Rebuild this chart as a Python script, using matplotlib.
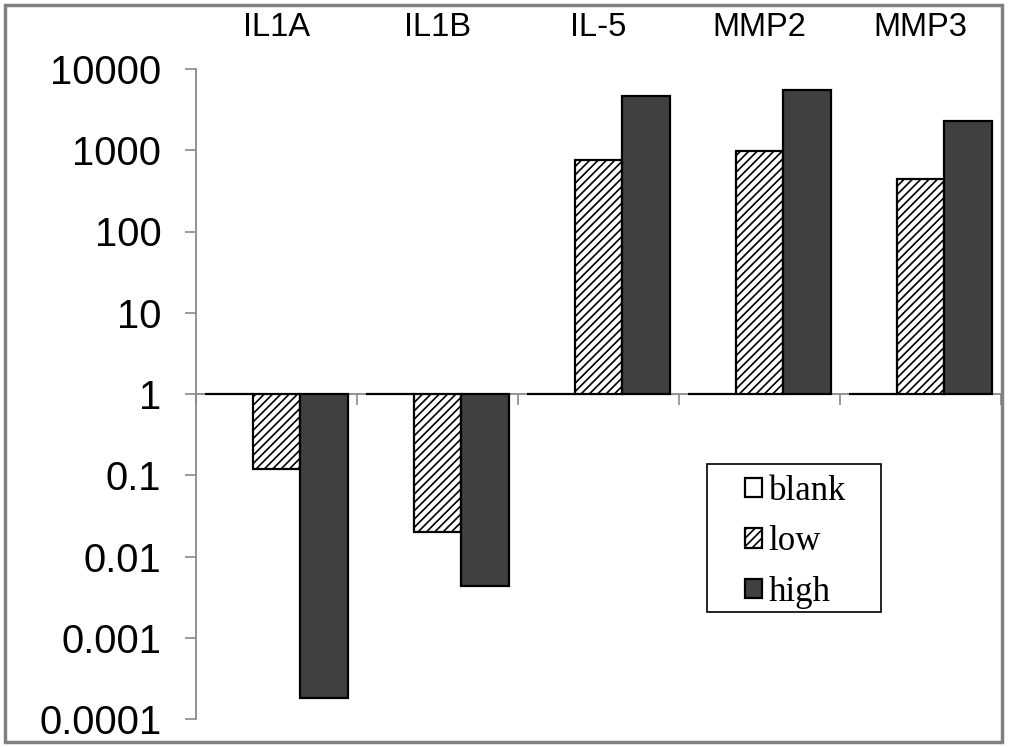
import numpy as np
import matplotlib
matplotlib.use("Agg")
import matplotlib.pyplot as plt
from matplotlib.patches import Rectangle

categories = ["IL1A", "IL1B", "IL-5", "MMP2", "MMP3"]
series_names = ["blank", "low", "high"]
blank = [1, 1, 1, 1, 1]
low = [0.12, 0.02, 760, 980, 445]
high = [0.00018, 0.0043, 4600, 5500, 2300]
ytick_values = [0.0001, 0.001, 0.01, 0.1, 1, 10, 100, 1000, 10000]
ytick_labels = ["0.0001", "0.001", "0.01", "0.1", "1", "10", "100", "1000", "10000"]

plt.rcParams['hatch.linewidth'] = 1.2
fig = plt.figure(figsize=(10.09, 7.47), dpi=100)
ax = fig.add_axes([196/1009, 1-719/747, (1001-196)/1009, (719-69)/747])

x = np.arange(len(categories))
w = 0.298
styles = [
    dict(facecolor="white", edgecolor="black", hatch=None),
    dict(facecolor="white", edgecolor="black", hatch="////"),
    dict(facecolor="#404040", edgecolor="black", hatch=None),
]
for i, (name, vals) in enumerate(zip(series_names, [blank, low, high])):
    vals = np.array(vals, dtype=float)
    ax.bar(x + (i-1)*w, vals - 1, bottom=1, width=w, linewidth=1.6,
           label=name, **styles[i])

ax.set_yscale("log")
ax.set_ylim(0.0001, 10000)
ax.set_xlim(-0.5, len(categories)-0.5)
ax.set_yticks(ytick_values)
ax.set_yticklabels(ytick_labels)
ax.yaxis.set_minor_locator(matplotlib.ticker.NullLocator())
ax.tick_params(axis='y', which='major', direction='out', length=8, width=1.2,
               color="#8a8a8a", pad=17, labelsize=28.8,
               labelfontfamily="Liberation Sans")

ax.set_xticks(x)
ax.set_xticklabels(categories)
ax.set_xticks(np.arange(len(categories)+1) - 0.5, minor=True)
ax.tick_params(axis='x', which='major', bottom=False, top=False,
               labelbottom=False, labeltop=True, pad=15.5, labelsize=23.5,
               labelfontfamily="Liberation Sans")
ax.tick_params(axis='x', which='minor', bottom=True, top=False,
               direction='out', length=8, width=1.2, color="#8a8a8a")

for s in ["top", "right"]:
    ax.spines[s].set_visible(False)
ax.spines["left"].set_color("#8a8a8a")
ax.spines["left"].set_linewidth(1.3)
ax.spines["bottom"].set_position(("data", 1))
ax.spines["bottom"].set_color("#8a8a8a")
ax.spines["bottom"].set_linewidth(1.3)
ax.spines["bottom"].set_zorder(0.5)

leg = ax.legend(loc="upper left", bbox_to_anchor=(745/1009, 1-475/747),
                bbox_transform=fig.transFigure, frameon=False,
                prop={"family": "Liberation Serif", "size": 25},
                handlelength=0.48, handleheight=0.48, handletextpad=0.2,
                labelspacing=0.5, borderpad=0, borderaxespad=0)

# legend frame
fig.patches.append(Rectangle((707/1009, 1-612/747), 174/1009, 148/747,
                             transform=fig.transFigure, fill=False,
                             edgecolor="black", linewidth=1.2))
# outer figure border
fig.patches.append(Rectangle((5/1009, 1-742/747), 997/1009, 737/747,
                             transform=fig.transFigure, fill=False,
                             edgecolor="#808080", linewidth=2.5))

fig.savefig("out.png", dpi=100)
